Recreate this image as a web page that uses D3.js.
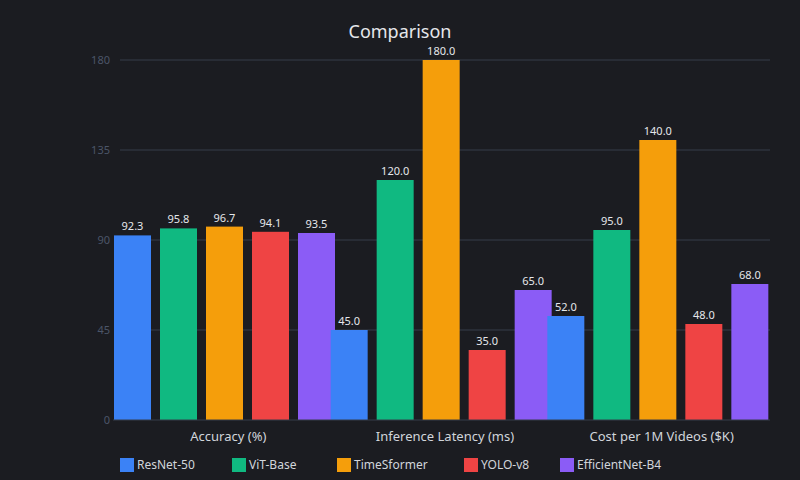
<!DOCTYPE html>
<html>
<head>
<meta charset="utf-8">
<script src="https://cdn.jsdelivr.net/npm/d3@7"></script>
<style>
  html, body { margin: 0; padding: 0; background: #1b1c21; }
  svg { display: block; font-family: "Noto Sans", "Open Sans", sans-serif; }
</style>
</head>
<body>
<svg id="chart" width="800" height="480"></svg>
<script>
const categories = ['Accuracy (%)', 'Inference Latency (ms)', 'Cost per 1M Videos ($K)']
const series = ['ResNet-50', 'ViT-Base', 'TimeSformer', 'YOLO-v8', 'EfficientNet-B4']
const colors = ['#3b82f6', '#10b981', '#f59e0b', '#ef4444', '#8b5cf6']
const resnet = [92.3, 45, 52]
const vit = [95.8, 120, 95]
const timesformer = [96.7, 180, 140]
const yolo = [94.1, 35, 48]
const efficientnet = [93.5, 65, 68]
const yTicks = [0, 45, 90, 135, 180]

const values = [resnet, vit, timesformer, yolo, efficientnet]
const legendX = [120, 232, 337, 464, 560]

const svg = d3.select('#chart')
const m = {top: 60, right: 30, bottom: 60, left: 120}
const W = 800, H = 480

svg.append('rect').attr('width', W).attr('height', H).attr('fill', '#1b1c21')

const x0 = d3.scaleBand().domain(categories).range([m.left, W - m.right])
const x1 = d3.scaleBand().domain(series).range([-6, 215]).paddingInner(0.1957)
const y = d3.scaleLinear().domain([0, 180]).range([H - m.bottom, m.top])

// grid
svg.append('g')
  .selectAll('line')
  .data(yTicks.slice(1))
  .join('line')
  .attr('x1', m.left).attr('x2', W - m.right)
  .attr('y1', d => y(d)).attr('y2', d => y(d))
  .attr('stroke', '#363c4a').attr('stroke-width', 1)

// y labels
svg.append('g')
  .selectAll('text')
  .data(yTicks)
  .join('text')
  .attr('x', m.left - 10)
  .attr('y', d => y(d))
  .attr('dy', '0.35em')
  .attr('text-anchor', 'end')
  .attr('fill', '#4b5568')
  .attr('font-size', 11)
  .text(d => d)

// bars
const groups = svg.append('g')
  .selectAll('g')
  .data(categories)
  .join('g')
  .attr('transform', d => `translate(${x0(d)},0)`)

groups.selectAll('rect')
  .data((c, ci) => series.map((s, si) => ({s, si, v: values[si][ci]})))
  .join('rect')
  .attr('x', d => x1(d.s))
  .attr('width', x1.bandwidth())
  .attr('y', d => y(d.v))
  .attr('height', d => y(0) - y(d.v))
  .attr('fill', d => colors[d.si])

groups.selectAll('text')
  .data((c, ci) => series.map((s, si) => ({s, si, v: values[si][ci]})))
  .join('text')
  .attr('x', d => x1(d.s) + x1.bandwidth() / 2)
  .attr('y', d => y(d.v) - 5)
  .attr('text-anchor', 'middle')
  .attr('fill', '#e5e7eb')
  .attr('font-size', 11)
  .text(d => d.v.toFixed(1))

// baseline
svg.append('line')
  .attr('x1', 113).attr('x2', W - m.right)
  .attr('y1', y(0)).attr('y2', y(0))
  .attr('stroke', '#363c4a')

// category labels
svg.append('g')
  .selectAll('text')
  .data(categories)
  .join('text')
  .attr('x', d => x0(d) + x0.bandwidth() / 2)
  .attr('y', y(0) + 21)
  .attr('text-anchor', 'middle')
  .attr('fill', '#d1d5db')
  .attr('font-size', 13)
  .text(d => d)

// title
svg.append('text')
  .attr('x', W / 2).attr('y', 38)
  .attr('text-anchor', 'middle')
  .attr('fill', '#e5e7eb')
  .attr('font-size', 18)
  .text('Comparison')

// legend
const legend = svg.append('g')
  .selectAll('g')
  .data(series)
  .join('g')
  .attr('transform', (d, i) => `translate(${legendX[i]},458)`)

legend.append('rect')
  .attr('width', 14).attr('height', 14)
  .attr('fill', (d, i) => colors[i])

legend.append('text')
  .attr('x', 17).attr('y', 7).attr('dy', '0.35em')
  .attr('fill', '#d1d5db')
  .attr('font-size', 12)
  .text(d => d)
</script>
</body>
</html>
